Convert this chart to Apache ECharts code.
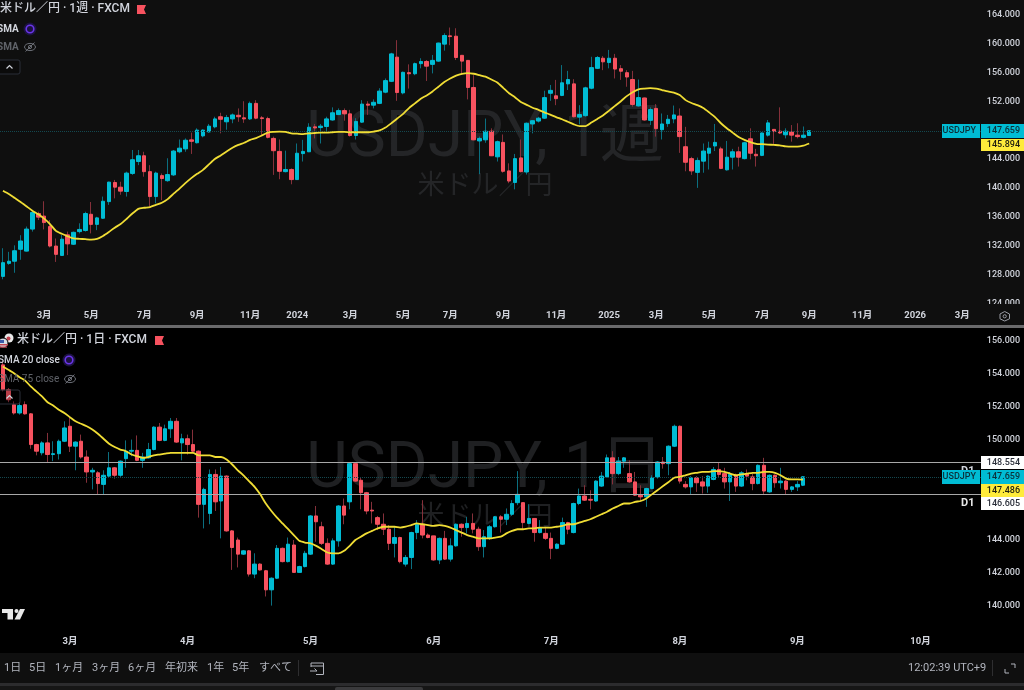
<!DOCTYPE html>
<html>
<head>
<meta charset="utf-8">
<title>USDJPY</title>
<script src="https://cdn.jsdelivr.net/npm/echarts@6/dist/echarts.min.js"></script>
<style>
  html, body { margin: 0; padding: 0; background: #000; }
  #chart { width: 1024px; height: 690px; }
</style>
</head>
<body>
<div id="chart"></div>
<script>
// weekly pane, each row is open, close, low, high
const weekOhlc = [
  [127.5,129.4,127.1,131.4],[129.3,129.6,129.1,130.9],[129.6,131.05,128.0,131.8],[131.25,132.4,129.8,133.2],
  [131.0,134.05,130.95,134.4],[134.05,136.35,133.7,136.45],[136.2,135.7,135.3,136.45],[135.85,134.95,134.0,137.9],
  [134.4,131.7,131.5,135.3],[131.7,130.55,129.5,132.75],[130.4,132.65,130.35,133.25],[133.25,132.0,130.45,133.7],
  [131.95,133.6,131.85,133.7],[133.7,134.0,133.45,134.85],[133.85,136.2,133.7,136.45],[136.1,134.7,133.45,137.8],
  [134.7,135.6,133.9,135.75],[135.55,137.9,135.45,138.55],[137.85,140.55,137.4,140.6],[140.5,139.85,138.3,140.85],
  [139.85,139.3,138.8,140.6],[139.25,141.8,138.55,142.0],[141.75,143.65,141.55,145.0],[143.4,144.2,142.9,145.0],
  [144.2,142.0,141.3,144.75],[142.0,138.55,137.15,142.9],[138.55,141.8,137.6,142.0],[141.45,141.05,138.05,141.75],
  [140.75,141.6,140.6,143.85],[141.55,144.85,141.4,145.0],[144.75,145.25,144.55,146.45],[145.15,146.35,144.75,146.6],
  [146.4,146.2,144.45,147.4],[146.0,147.75,145.9,148.0],[146.95,147.75,146.75,147.85],[147.5,148.3,147.4,148.6],
  [148.2,149.3,148.0,149.6],[149.6,149.25,147.3,150.15],[148.9,149.5,147.8,149.85],[149.3,149.85,148.7,150.05],
  [149.8,149.6,148.9,150.75],[149.45,149.3,148.75,151.75],[149.3,151.45,149.15,151.7],[151.45,149.4,149.25,151.9],
  [149.45,149.35,147.05,149.7],[149.35,146.75,146.6,149.6],[146.6,144.9,141.55,146.85],[144.8,142.05,140.95,146.45],
  [142.0,142.3,141.9,144.9],[142.3,140.9,140.25,142.45],[140.9,144.55,140.85,145.9],[144.5,144.8,143.4,146.4],
  [144.75,148.15,144.7,148.7],[148.2,148.05,146.6,148.6],[148.1,148.3,145.9,148.6],[148.25,149.3,147.55,149.6],
  [149.15,150.15,149.05,150.9],[149.9,150.45,149.85,150.75],[150.45,150.0,149.05,150.75],[150.0,147.0,146.85,150.55],
  [147.0,148.95,146.45,149.4],[148.85,151.35,148.75,151.9],[151.35,151.2,149.85,151.75],[151.2,151.6,150.75,152.0],
  [151.45,153.15,151.35,153.55],[153.0,154.6,152.85,154.9],[154.5,158.3,154.4,158.45],[157.85,152.95,151.8,160.2],
  [152.9,155.75,152.7,155.85],[155.7,155.55,153.5,156.85],[155.55,156.95,155.35,157.1],[156.95,157.25,156.3,157.7],
  [157.25,156.6,154.55,157.45],[156.85,157.4,155.6,158.15],[157.3,159.8,157.2,159.85],[159.65,160.85,158.75,161.15],
  [160.8,160.7,159.5,161.95],[160.75,157.8,157.45,161.85],[158.1,157.3,155.5,158.15],[157.4,153.65,152.0,157.45],
  [153.65,146.4,146.35,155.35],[146.25,146.6,141.65,146.85],[146.4,147.6,146.0,149.35],[147.6,144.2,144.15,148.0],
  [144.05,146.15,143.4,146.3],[146.05,142.05,141.85,147.15],[142.1,140.7,140.4,143.15],[140.5,143.8,139.55,144.45],
  [143.9,142.0,141.9,146.45],[141.95,148.7,141.6,148.8],[148.6,149.05,147.3,149.05],[149.0,149.4,148.8,149.6],
  [149.4,152.25,149.3,153.2],[152.85,153.25,151.8,154.0],[152.5,152.1,151.2,154.7],[152.55,154.3,152.45,156.75],
  [154.15,154.75,153.3,155.95],[154.15,149.6,149.5,154.8],[149.55,149.9,148.55,151.2],[149.75,153.6,149.6,153.75],
  [153.55,156.4,153.4,157.9],[156.3,157.8,156.2,158.0],[157.7,157.2,156.05,158.0],[157.1,157.7,156.3,158.85],
  [157.7,156.2,154.9,158.3],[156.25,155.9,154.7,156.75],[155.7,155.1,153.75,156.05],[154.75,151.3,151.0,155.95],
  [151.1,152.25,151.0,154.75],[152.2,149.15,149.05,152.25],[149.1,150.6,148.45,150.9],[150.75,147.95,146.85,151.35],
  [147.8,148.6,146.45,150.05],[148.65,149.25,148.2,149.85],[149.3,149.85,148.7,151.15],[149.7,146.85,144.6,150.75],
  [145.45,143.3,142.05,148.2],[143.8,142.1,141.55,144.05],[141.9,143.55,139.75,143.95],[143.45,144.85,141.85,145.9],
  [144.55,145.25,142.3,146.15],[145.55,146.05,144.85,148.6],[145.15,142.45,142.35,145.45],[142.25,144.0,142.15,146.25],
  [144.0,144.75,142.3,145.15],[144.75,144.0,142.7,145.45],[143.8,146.0,143.7,146.15],[146.55,144.55,143.7,148.0],
  [144.4,144.2,142.7,145.15],[144.25,147.35,144.15,147.45],[147.05,148.75,146.85,149.15],[147.85,147.55,145.8,147.9],
  [147.6,147.35,147.2,150.9],[147.1,147.6,146.6,148.0],[147.5,147.05,146.15,148.45],[147.05,146.85,146.6,148.7],
  [146.75,147.05,146.6,148.25],[147.0,147.66,146.95,147.7]
];
const weekSma = [
  139.35,138.9,138.35,137.8,137.2,136.6,136.1,135.5,134.75,133.8,133.4,133.05,132.75,132.7,132.65,132.6,132.7,133.1,133.65,134.25,
  134.75,135.45,136.2,136.85,137.0,137.1,137.4,137.7,138.2,138.95,139.65,140.4,141.1,141.7,142.25,143.0,143.75,144.25,144.8,145.3,
  145.7,146.0,146.4,146.65,147.0,147.4,147.5,147.55,147.5,147.3,147.25,147.2,147.3,147.35,147.4,147.4,147.45,147.5,147.5,147.45,
  147.45,147.45,147.45,147.55,147.7,148.1,148.7,149.35,150.0,150.8,151.45,152.1,152.55,153.1,153.75,154.4,154.9,155.3,155.55,155.65,
  155.55,155.35,155.15,154.75,154.35,153.6,152.85,152.3,151.65,151.25,150.85,150.55,150.2,149.9,149.55,149.25,148.9,148.55,148.3,148.3,
  148.8,149.3,149.8,150.45,151.1,151.75,152.45,153.0,153.4,153.5,153.55,153.5,153.3,153.1,152.95,152.6,151.9,151.5,151.2,150.8,
  150.2,149.55,148.7,148.0,147.4,146.8,146.4,146.1,145.85,145.8,145.75,145.7,145.65,145.5,145.45,145.45,145.6,145.9
];
const weekTickIdx = [7,15,24,33,42,50,59,68,76,85,94,103,111,120,129,137,146,155,163];
const weekTickText = ['3月','5月','7月','9月','11月','2024','3月','5月','7月','9月','11月','2025','3月','5月','7月','9月','11月','2026','3月'];
const weekPrices = [124,128,132,136,140,144,152,156,160,164];

// daily pane, same column order
const dayOhlc = [
  [154.4,152.9,152.8,154.6],[152.9,152.3,152.15,153.0],[152.0,151.5,151.4,152.2],[151.5,151.95,151.4,152.15],
  [152.0,151.45,151.4,152.2],[151.45,149.6,149.35,151.5],[149.6,149.2,148.95,149.65],[149.1,149.7,148.95,149.8],
  [149.7,149.0,148.55,150.3],[149.0,149.05,148.6,149.8],[149.05,149.8,148.7,149.9],[149.8,150.6,149.75,151.0],
  [150.7,149.5,149.15,151.2],[149.5,149.75,148.05,149.8],[149.8,148.85,148.75,150.2],[148.85,147.95,147.3,149.25],
  [147.95,148.05,146.9,148.2],[147.9,147.25,146.6,148.0],[147.2,147.75,146.6,148.05],[147.7,148.2,147.65,149.15],
  [148.2,147.75,147.55,148.25],[147.75,148.6,147.65,148.65],[148.75,149.2,148.2,149.85],[149.2,149.25,148.9,149.9],
  [149.25,148.65,148.6,150.15],[148.65,148.85,148.2,149.1],[148.8,149.3,148.75,149.7],[149.3,150.65,149.25,150.7],
  [150.65,149.85,149.8,150.9],[149.85,150.55,149.8,150.8],[150.55,151.0,150.0,151.2],[151.0,149.75,149.7,151.2],
  [149.7,149.95,148.65,150.25],[149.95,149.6,149.0,150.2],[149.6,149.2,149.15,150.5],[149.2,146.0,145.2,149.25],
  [146.0,146.9,144.55,147.0],[145.45,147.8,144.8,148.1],[147.8,146.15,145.6,148.1],[146.2,147.7,143.95,148.25],
  [147.7,144.4,144.35,147.75],[144.4,143.4,142.05,144.45],[143.85,143.0,142.2,144.0],[143.0,143.2,142.95,143.25],
  [143.2,141.8,141.65,143.25],[141.8,142.4,141.55,143.05],[142.4,142.05,142.0,142.45],[142.0,140.85,140.45,142.05],
  [140.85,141.55,139.9,141.6],[141.55,143.35,141.5,143.55],[143.35,142.55,142.5,143.4],[142.55,143.6,142.5,144.0],
  [143.55,141.9,141.9,143.85],[141.9,142.25,141.9,142.3],[142.25,143.05,142.2,143.2],[143.0,145.3,142.95,145.35],
  [145.3,144.95,143.75,145.9],[144.65,143.65,143.55,144.95],[143.65,142.4,142.35,143.95],[142.4,143.8,142.35,143.95],
  [143.8,145.9,143.45,145.95],[145.9,145.35,144.8,146.35],[146.15,148.45,145.7,148.55],[148.45,147.4,147.35,148.45],
  [147.45,146.7,145.7,147.6],[146.7,145.6,145.4,146.75],[145.65,145.6,144.85,146.15],[145.2,144.8,144.45,145.3],
  [144.8,144.5,144.15,145.45],[144.5,143.65,143.25,144.75],[143.65,144.0,142.8,144.65],[144.0,142.55,142.45,144.05],
  [142.4,142.8,142.25,142.95],[142.8,144.3,142.1,144.35],[144.3,144.8,143.9,145.05],[144.8,144.15,143.95,146.25],
  [144.15,144.0,143.95,144.25],[144.1,142.65,142.6,144.1],[142.65,143.95,142.4,144.0],[143.95,142.7,142.65,144.4],
  [142.7,143.5,142.55,143.95],[143.5,144.8,143.45,144.85],[144.8,144.6,144.05,144.85],[144.6,144.85,144.25,145.25],
  [144.85,144.5,144.25,145.45],[144.5,143.45,143.2,144.65],[143.45,144.05,142.8,144.45],[143.95,144.65,143.85,144.75],
  [144.65,145.25,144.6,145.3],[145.25,145.1,144.3,145.35],[145.1,145.4,144.75,145.75],[145.4,146.05,145.3,146.25],
  [146.1,146.6,145.95,148.0],[146.1,144.9,144.5,146.1],[144.85,145.15,144.8,146.0],[145.15,144.3,143.75,145.15],
  [144.3,144.6,144.25,145.05],[144.25,143.95,143.85,144.65],[143.95,143.35,142.7,144.3],[143.35,143.6,143.3,143.65],
  [143.6,144.9,143.55,145.2],[144.9,144.5,144.2,144.95],[144.3,146.05,144.25,146.1],[146.05,146.5,145.95,146.95],
  [146.5,146.25,146.2,147.15],[146.3,146.25,145.7,146.85],[146.2,147.4,146.15,147.45],[147.1,147.7,147.05,147.95],
  [147.65,148.8,147.6,149.0],[148.8,147.85,147.2,149.2],[147.85,148.6,147.75,148.85],[148.6,148.8,148.2,148.85],
  [147.85,147.35,147.3,148.65],[147.35,146.55,146.5,147.95],[146.55,146.45,146.15,147.15],[146.45,146.95,145.85,147.0],
  [146.95,147.6,146.9,147.75],[147.65,148.55,147.55,148.6],[148.55,148.45,148.15,148.85],[148.45,149.5,147.75,149.55],
  [149.5,150.7,149.45,150.8],[150.7,147.4,147.25,150.75],[147.2,147.05,146.95,147.4],[147.05,147.6,146.6,147.7],
  [147.6,147.3,146.75,147.7],[147.35,147.1,146.65,147.7],[147.1,147.7,146.7,147.75],[147.5,148.1,147.45,148.25],
  [148.1,147.8,147.6,148.55],[147.85,147.35,146.95,148.2],[147.35,147.8,146.2,147.95],[147.75,147.1,146.75,147.85],
  [147.1,147.9,147.05,148.0],[147.85,147.7,147.45,148.1],[147.65,147.25,146.85,147.85],[147.25,148.35,147.2,148.4],
  [148.35,146.8,146.6,148.8],[146.75,147.75,146.7,147.8],[147.75,147.3,147.0,147.8],[147.3,147.4,146.95,148.2],
  [147.4,146.9,146.6,147.45],[146.9,147.05,146.75,147.1],[147.05,147.2,146.8,147.4],[147.15,147.66,147.1,147.7]
];
const daySma = [
  154.3,154.1,153.9,153.65,153.45,153.1,152.8,152.5,152.15,151.95,151.7,151.5,151.25,151.0,150.85,150.7,150.5,150.25,149.95,149.65,
  149.45,149.3,149.2,149.0,148.9,148.8,148.85,148.95,149.0,149.05,149.1,149.1,149.1,149.1,149.1,148.95,148.95,148.95,148.85,148.85,
  148.7,148.4,148.05,147.75,147.4,147.05,146.6,146.05,145.6,145.2,144.85,144.5,144.15,143.8,143.7,143.65,143.5,143.3,143.1,143.05,
  143.05,143.2,143.5,143.85,144.05,144.25,144.4,144.55,144.65,144.65,144.65,144.6,144.65,144.75,144.85,144.8,144.75,144.7,144.75,144.7,
  144.6,144.45,144.3,144.15,144.05,143.95,143.95,143.95,144.0,144.05,144.25,144.4,144.5,144.5,144.55,144.55,144.6,144.6,144.6,144.65,
  144.7,144.8,144.8,144.9,145.0,145.1,145.25,145.4,145.55,145.75,145.9,146.05,146.05,146.15,146.2,146.35,146.6,146.85,147.1,147.35,
  147.6,147.65,147.75,147.85,147.9,147.95,147.95,148.0,148.0,147.95,147.85,147.75,147.8,147.85,147.9,147.9,147.95,147.95,147.9,147.75,
  147.55,147.5,147.5,147.49
];
const dayTickIdx = [12,33,55,77,98,121,142,164];
const dayTickText = ['3月','4月','5月','6月','7月','8月','9月','10月'];
const dayPrices = [140,142,144,150,152,154,156];

const lastPrice = 147.659;
const d1Upper = 148.554;
const d1Lower = 146.605;

const rangeButtons = ['1日','5日','1ヶ月','3ヶ月','6ヶ月','年初来','1年','5年','すべて'];
const rangeButtonX = [4,29,55,92,128,165,207,232,259];

const UP = '#00bcd4';
const DOWN = '#f7525f';
const UP_WICK = '#0b6f80';
const DOWN_WICK = '#85303a';
const SMA = '#f0dd35';
const FONT = 'Roboto, "Noto Sans CJK JP", sans-serif';
const TEXT = '#d1d4dc';
const PANEL = '#0f0f0f';

const bodyOnly = (rows) => rows.map((r) => [r[0], r[1], Math.min(r[0], r[1]), Math.max(r[0], r[1])]);

// category list with a blank for every bar that carries no tick label
const buildCategories = (count, idx, text) => {
  const cats = new Array(count).fill('');
  idx.forEach((pos, i) => { cats[pos] = text[i]; });
  return cats;
};

const candleSeries = (rows, xi) => [
  {
    type: 'candlestick',
    xAxisIndex: xi,
    yAxisIndex: xi,
    data: rows,
    barWidth: 1,
    silent: true,
    itemStyle: { color: UP_WICK, color0: DOWN_WICK, borderColor: UP_WICK, borderColor0: DOWN_WICK, borderWidth: 1 },
  },
  {
    type: 'candlestick',
    xAxisIndex: xi,
    yAxisIndex: xi,
    data: bodyOnly(rows),
    barWidth: 4,
    silent: true,
    itemStyle: { color: UP, color0: DOWN, borderColor: UP, borderColor0: DOWN, borderWidth: 1 },
  },
];

const smaSeries = (values, xi, lines) => ({
  type: 'line',
  xAxisIndex: xi,
  yAxisIndex: xi,
  data: values,
  symbol: 'none',
  silent: true,
  smooth: 0.2,
  lineStyle: { color: SMA, width: 1.8 },
  z: 5,
  markLine: {
    silent: true,
    symbol: 'none',
    animation: false,
    label: { show: false },
    data: lines,
  },
});

const xAxisFor = (cats, gridIndex, margin) => ({
  type: 'category',
  gridIndex,
  data: cats,
  boundaryGap: true,
  axisLine: { show: false },
  axisTick: { show: false },
  splitLine: { show: false },
  z: 30,
  axisLabel: {
    interval: (i, v) => v !== '',
    color: TEXT,
    fontFamily: FONT,
    fontSize: 9.5,
    fontWeight: 'bold',
    margin,
    hideOverlap: false,
  },
});

const yAxisFor = (min, max, ticks, gridIndex) => ({
  type: 'value',
  gridIndex,
  position: 'right',
  min,
  max,
  axisLine: { show: false },
  axisTick: { show: false },
  splitLine: { show: false },
  z: 4,
  axisLabel: {
    inside: true,
    customValues: ticks,
    formatter: (v) => `{p|${v.toFixed(3)}}`,
    margin: 4,
    align: 'right',
    rich: {
      p: { color: TEXT, fontFamily: FONT, fontSize: 9, fontWeight: 500, padding: [4, 0, 0, 0] },
    },
  },
});

const text = (x, y, str, size, color, weight, align) => ({
  type: 'text',
  x,
  y,
  z: 40,
  silent: true,
  style: {
    text: str,
    fill: color,
    font: `${weight || 'normal'} ${size}px ${FONT}`,
    textAlign: align || 'left',
    textVerticalAlign: 'middle',
  },
});

const box = (x, y, w, h, fill, z) => ({
  type: 'rect',
  z: z === undefined ? 40 : z,
  silent: true,
  shape: { x, y, width: w, height: h },
  style: { fill },
});

// price tag on the right scale
const tag = (x, y, w, h, str, fill, color) => [
  box(x, y, w, h, fill, 45),
  Object.assign(text(x + w - 4, y + h / 2, str, 9, color, 500, 'right'), { z: 46 }),
];

const flag = (x, y) => ({
  type: 'polygon',
  z: 40,
  silent: true,
  shape: { points: [[x, y], [x + 9, y], [x + 7, y + 4.5], [x + 9, y + 9], [x, y + 9]] },
  style: { fill: DOWN },
});

const syncIcon = (x, y) => [
  { type: 'circle', z: 39, silent: true, shape: { cx: x, cy: y, r: 6.5 }, style: { fill: '#1c1240' } },
  { type: 'circle', z: 40, silent: true, shape: { cx: x, cy: y, r: 3.8 }, style: { fill: 'none', stroke: '#6a35e8', lineWidth: 1.6 } },
];

const eyeIcon = (x, y) => [
  { type: 'ellipse', z: 40, silent: true, shape: { cx: x, cy: y, rx: 5.5, ry: 3.6 }, style: { fill: 'none', stroke: '#6b6e76', lineWidth: 1 } },
  { type: 'circle', z: 40, silent: true, shape: { cx: x, cy: y, r: 1.6 }, style: { fill: 'none', stroke: '#6b6e76', lineWidth: 1 } },
  { type: 'line', z: 40, silent: true, shape: { x1: x - 4.5, y1: y + 4.5, x2: x + 4.5, y2: y - 4.5 }, style: { stroke: '#6b6e76', lineWidth: 1 } },
];

const collapse = (y) => [
  { type: 'rect', z: 40, silent: true, shape: { x: -5, y, width: 25, height: 14, r: 2 }, style: { fill: 'rgba(0,0,0,0.25)', stroke: '#2a2e39', lineWidth: 1 } },
  { type: 'polyline', z: 41, silent: true, shape: { points: [[6.5, y + 8.5], [9.5, y + 5.5], [12.5, y + 8.5]] }, style: { fill: 'none', stroke: TEXT, lineWidth: 1.2 } },
];

const watermark = (cx, yTop, ySub, title, fill) => [
  {
    type: 'text', z: 1, silent: true, x: cx, y: yTop,
    style: { text: title, fill, font: `64px ${FONT}`, textAlign: 'center', textVerticalAlign: 'middle' },
  },
  {
    type: 'text', z: 1, silent: true, x: cx, y: ySub,
    style: { text: '米ドル／円', fill, font: `27px ${FONT}`, textAlign: 'center', textVerticalAlign: 'middle' },
  },
];

const graphics = [
  // panel backgrounds, kept under the series
  box(0, 0, 1024, 325, PANEL, -5),
  box(0, 328, 1024, 325, '#000000', -5),
  // strips above the series: time axis rows and the toolbar
  box(0, 304, 1024, 21, PANEL, 20),
  box(0, 325, 1024, 3, '#6a6a6c', 20),
  box(0, 632, 1024, 21, '#000000', 20),
  box(0, 653, 1024, 30, PANEL, 20),
  box(0, 683, 1024, 3, '#2c2c2e', 20),
  box(0, 686, 1024, 4, '#161616', 20),
  { type: 'rect', z: 21, silent: true, shape: { x: 335, y: 687, width: 88, height: 5, r: 2 }, style: { fill: '#3a3a3c' } },
  ...watermark(485, 140, 187, 'USDJPY, 1週', '#242527'),
  ...watermark(485, 471, 518, 'USDJPY, 1日', '#1f2022'),
  // top legend
  text(0, 9, '米ドル／円 · 1週 · FXCM', 12, TEXT, 500),
  flag(137, 5),
  text(-3, 29, 'SMA', 10, TEXT, 'bold'),
  ...syncIcon(30, 29),
  text(-3, 47, 'SMA', 10, '#5f6268', 'bold'),
  ...eyeIcon(30, 47),
  ...collapse(60),
  // bottom legend, the pair icon is two small discs
  { type: 'circle', z: 40, silent: true, shape: { cx: 9, cy: 338, r: 4.5 }, style: { fill: '#e8e8e8' } },
  { type: 'circle', z: 41, silent: true, shape: { cx: 8.5, cy: 338.5, r: 2 }, style: { fill: '#c2434f' } },
  { type: 'circle', z: 42, silent: true, shape: { cx: 3, cy: 343, r: 5 }, style: { fill: '#d8dde6', stroke: '#000', lineWidth: 1 } },
  box(0, 340, 4, 3, '#3a5aa8', 43),
  box(0, 344, 8, 1.5, '#c2434f', 43),
  box(0, 346.5, 7, 1.2, '#c2434f', 43),
  text(17, 340, '米ドル／円 · 1日 · FXCM', 12, TEXT, 500),
  flag(155, 336),
  text(-2, 360, 'SMA 20 close', 10, TEXT, 500),
  ...syncIcon(69, 360),
  text(-2, 379, 'SMA 75 close', 10, '#5f6268'),
  ...eyeIcon(70, 379),
  ...collapse(390),
  // tv logo
  { type: 'polygon', z: 40, silent: true, shape: { points: [[2, 609], [13, 609], [13, 619.5], [7.5, 619.5], [7.5, 613], [2, 613]] }, style: { fill: '#e8e8e8' } },
  { type: 'circle', z: 40, silent: true, shape: { cx: 16.5, cy: 611, r: 2 }, style: { fill: '#e8e8e8' } },
  { type: 'polygon', z: 40, silent: true, shape: { points: [[20, 609], [25, 609], [20, 619.5], [14.5, 619.5]] }, style: { fill: '#e8e8e8' } },
  // toolbar
  ...rangeButtons.map((s, i) => text(rangeButtonX[i], 668, s, 11, '#b2b5be')),
  box(298, 660, 1, 16, '#2e2e30', 40),
  { type: 'polyline', z: 40, silent: true, shape: { points: [[311, 667], [311, 663], [323.5, 663], [323.5, 674.5], [316, 674.5]] }, style: { fill: 'none', stroke: '#b2b5be', lineWidth: 1 } },
  { type: 'line', z: 40, silent: true, shape: { x1: 311, y1: 666, x2: 323.5, y2: 666 }, style: { stroke: '#b2b5be', lineWidth: 1 } },
  { type: 'polyline', z: 40, silent: true, shape: { points: [[310, 671], [317, 671], [314.5, 668.5]] }, style: { fill: 'none', stroke: '#b2b5be', lineWidth: 1 } },
  text(908, 668, '12:02:39 UTC+9', 11, '#b2b5be'),
  box(992, 660, 1, 16, '#2e2e30', 40),
  { type: 'polyline', z: 40, silent: true, shape: { points: [[1005, 669], [1005, 673], [1009, 673]] }, style: { fill: 'none', stroke: '#b2b5be', lineWidth: 1 } },
  { type: 'polyline', z: 40, silent: true, shape: { points: [[1011, 664], [1015, 664], [1015, 668]] }, style: { fill: 'none', stroke: '#b2b5be', lineWidth: 1 } },
  // settings icon on the time axis
  { type: 'polygon', z: 40, silent: true, shape: { points: [[1004.7, 311.5], [1009.5, 314], [1009.5, 318.8], [1004.7, 321], [1000, 318.8], [1000, 314]] }, style: { fill: 'none', stroke: '#9a9da5', lineWidth: 1 } },
  { type: 'circle', z: 40, silent: true, shape: { cx: 1004.7, cy: 316.3, r: 1.6 }, style: { fill: 'none', stroke: '#9a9da5', lineWidth: 1 } },
  // price tags, top pane
  ...tag(942, 124, 38, 14, 'USDJPY', UP, '#0c2f38'),
  ...tag(981, 124, 43, 14, '147.659', UP, '#0c2f38'),
  ...tag(981, 139, 43, 12, '145.894', '#ffeb3b', '#1c1c10'),
  // bottom pane, the upper D1 is mostly hidden by the USDJPY tag
  text(961, 471, 'D1', 11, TEXT, 'bold'),
  ...tag(981, 456, 43, 13, d1Upper.toFixed(3), '#ffffff', '#2a2e39'),
  ...tag(942, 470, 38, 14, 'USDJPY', UP, '#0c2f38'),
  ...tag(981, 470, 43, 14, lastPrice.toFixed(3), UP, '#0c2f38'),
  ...tag(981, 484, 43, 13, '147.486', '#ffeb3b', '#1c1c10'),
  ...tag(981, 497, 43, 13, d1Lower.toFixed(3), '#ffffff', '#2a2e39'),
  text(961, 503, 'D1', 11, '#e8e8e8', 'bold'),
];

const priceLine = { yAxis: lastPrice, lineStyle: { color: '#14484f', type: 'dotted', width: 1 } };
const d1Line = (v) => ({ yAxis: v, lineStyle: { color: '#a8a8a8', type: 'solid', width: 1 } });

const weekCats = buildCategories(174, weekTickIdx, weekTickText);
const dayCats = buildCategories(183, dayTickIdx, dayTickText);

const chart = echarts.init(document.getElementById('chart'));
chart.setOption({
  animation: false,
  backgroundColor: '#000000',
  grid: [
    { left: -1.95, top: 0, width: 1026.6, height: 305 },
    { left: -2.81, top: 328, width: 1028.8, height: 307 },
  ],
  xAxis: [xAxisFor(weekCats, 0, 6), xAxisFor(dayCats, 1, 2)],
  yAxis: [
    yAxisFor(123.54, 165.76, weekPrices, 0),
    yAxisFor(138.13, 156.62, dayPrices, 1),
  ],
  series: [
    ...candleSeries(weekOhlc, 0),
    smaSeries(weekSma, 0, [priceLine]),
    ...candleSeries(dayOhlc, 1),
    smaSeries(daySma, 1, [priceLine, d1Line(d1Upper), d1Line(d1Lower)]),
  ],
  graphic: { elements: graphics },
});
</script>
</body>
</html>
